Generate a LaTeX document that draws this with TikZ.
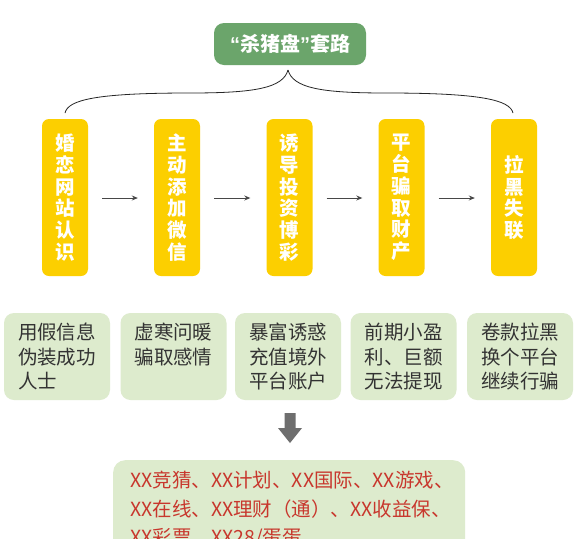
\documentclass[tikz,border=0pt]{standalone}
\usepackage{fontspec}
\setmainfont{Noto Sans CJK SC}
\newfontfamily\quotefont{Liberation Sans}
\usetikzlibrary{arrows.meta}
\definecolor{titlegreen}{HTML}{6BA56B}
\definecolor{ygold}{HTML}{FCCF00}
\definecolor{lgreen}{HTML}{DDEBCD}
\definecolor{txtgray}{HTML}{333333}
\definecolor{txtred}{HTML}{C8372D}
\definecolor{arrgray}{HTML}{6E6E6E}
\tikzset{
  titlebox/.style={fill=titlegreen, rounded corners=10pt, minimum width=152pt, minimum height=42pt, inner sep=0pt, text=white, font=\fontsize{20}{22}\selectfont\bfseries},
  ybox/.style={fill=ygold, rounded corners=7pt, minimum width=46pt, minimum height=157pt, inner sep=0pt, text=white, align=center, font=\fontsize{19.5}{21.7}\selectfont\bfseries},
  gbox/.style={fill=lgreen, rounded corners=10pt, minimum width=106pt, minimum height=87pt, inner sep=0pt},
  gtext/.style={anchor=north, inner sep=0pt, align=left, text=txtgray, font=\fontsize{19.5}{24.5}\selectfont},
  flowarrow/.style={draw=txtgray!90, line width=0.8pt, -{Stealth[length=6pt,width=5pt]}},
  bracestyle/.style={draw=black!85, line width=0.8pt},
  redtext/.style={anchor=north west, inner sep=0pt, align=left, text=txtred, font=\fontsize{19.5}{28.5}\selectfont}
}
\begin{document}
\begin{tikzpicture}[x=1pt,y=1pt]
\useasboundingbox (0,0) rectangle (582,-539);
\clip (0,0) rectangle (582,-539);
\fill[white] (0,0) rectangle (582,-539);

% title
\node[titlebox] (title) at (290,-44) {{\quotefont\bfseries “}杀猪盘{\quotefont\bfseries ”}套路};

% brace
\coordinate (apex) at (288,-70);
\coordinate (bl) at (65,-113);
\coordinate (br) at (513,-113);
\draw[bracestyle] (apex) .. controls (283,-88) and (255,-93) .. (190,-93)
  .. controls (95,-93) and (68,-100) .. (bl);
\draw[bracestyle] (apex) .. controls (293,-88) and (321,-93) .. (386,-93)
  .. controls (481,-93) and (510,-100) .. (br);

% yellow boxes
\node[ybox] (y1) at (65,-197.5) {婚\\恋\\网\\站\\认\\识};
\node[ybox] (y2) at (177,-197.5) {主\\动\\添\\加\\微\\信};
\node[ybox] (y3) at (289.5,-197.5) {诱\\导\\投\\资\\博\\彩};
\node[ybox] (y4) at (401.5,-197.5) {平\\台\\骗\\取\\财\\产};
\node[ybox] (y5) at (514,-197.5) {拉\\黑\\失\\联};

\foreach \a/\b in {y1/y2,y2/y3,y3/y4,y4/y5}{
  \draw[flowarrow] ([xshift=14pt,yshift=-0.5pt]\a.east) -- ([xshift=-16pt,yshift=-0.5pt]\b.west);
}

% green boxes
\node[gbox] (g1) at (57,-356.5) {};
\node[gbox] (g2) at (173.5,-356.5) {};
\node[gbox] (g3) at (288,-356.5) {};
\node[gbox] (g4) at (403.5,-356.5) {};
\node[gbox] (g5) at (520,-356.5) {};
\node[gtext] (t1) at (57,-323) {用假信息\\伪装成功\\人士};
\node[gtext] (t2) at (173.5,-323) {虚寒问暖\\骗取感情};
\node[gtext] (t3) at (288,-323) {暴富诱惑\\充值境外\\平台账户};
\node[gtext] (t4) at (403.5,-323) {前期小盈\\利、巨额\\无法提现};
\node[gtext] (t5) at (520,-323) {卷款拉黑\\换个平台\\继续行骗};

% down arrow
\fill[arrgray] (284.5,-413) -- (295.5,-413) -- (295.5,-428) -- (302,-428)
  -- (290,-443) -- (278,-428) -- (284.5,-428) -- cycle;

% bottom box
\node[fill=lgreen, rounded corners=12pt, minimum width=352pt, minimum height=110pt, inner sep=0pt, anchor=north west] (bottom) at (113,-460) {};
\node[redtext] (bt) at (130,-471) {XX竞猜、XX计划、XX国际、XX游戏、\\XX在线、XX理财（通）、XX收益保、\\XX彩票、XX28/蛋蛋};
\end{tikzpicture}
\end{document}
